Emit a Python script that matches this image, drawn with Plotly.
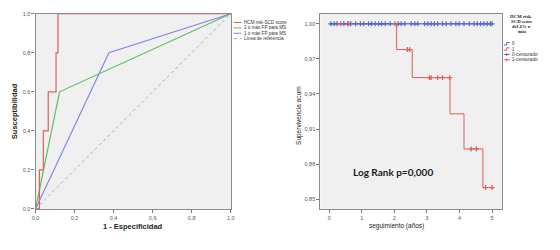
import plotly.graph_objects as go

# ---------------- ROC data ----------------
roc_names = ["HCM risk-SCD score", "2 ó más FP para MS", "1 ó más FP para MS", "Línea de referencia"]
roc_colors = ["#e25c5c", "#5cbf63", "#8585e6", "#aaaaaa"]
hcm_fpr = [0, 0.02, 0.02, 0.04, 0.04, 0.065, 0.065, 0.105, 0.105, 0.115, 0.115, 1.0]
hcm_tpr = [0, 0, 0.2, 0.2, 0.4, 0.4, 0.6, 0.6, 0.8, 0.8, 1.0, 1.0]
fp2_fpr = [0, 0.123, 1.0]
fp2_tpr = [0, 0.60, 1.0]
fp1_fpr = [0, 0.376, 1.0]
fp1_tpr = [0, 0.80, 1.0]
ref_x = [0, 1]
ref_y = [0, 1]
roc_ticks = [0, 0.2, 0.4, 0.6, 0.8, 1.0]

# ---------------- Kaplan-Meier data ----------------
g0_times = [0, 5.0]
g0_surv = [1.0, 1.0]
g1_times = [0, 2.07, 2.55, 3.71, 4.14, 4.72, 5.03]
g1_surv = [1.0, 0.978, 0.954, 0.923, 0.893, 0.860, 0.860]
g0_cens = [0.05, 0.15, 0.24, 0.45, 0.57, 0.66, 0.81, 0.96, 1.06, 1.21, 1.30, 1.41, 1.52,
           1.61, 1.72, 1.87, 2.12, 2.21, 2.32, 2.52, 2.63, 2.72, 2.93, 3.03, 3.13, 3.23,
           3.33, 3.48, 3.59, 3.74, 3.89, 3.99, 4.14, 4.30, 4.45, 4.55, 4.65, 4.75, 4.85,
           4.95, 5.0]
g1_cens = [0.35, 0.60, 2.02, 2.40, 2.47, 3.08, 3.13, 3.33, 3.48, 3.70, 4.36, 4.52, 4.80, 5.0]
km_yticks = [0.85, 0.88, 0.91, 0.94, 0.97, 1.00]
km_xticks = [0, 1, 2, 3, 4, 5]
km_blue = "#5468c8"
km_red = "#e05a5a"


def step_value(t, times, surv):
    v = surv[0]
    for ti, si in zip(times, surv):
        if ti <= t:
            v = si
    return v


g0_cens_y = [step_value(t, g0_times, g0_surv) for t in g0_cens]
g1_cens_y = [step_value(t, g1_times, g1_surv) for t in g1_cens]

W, H = 560, 250
def px(x):
    return x / W
def py(y):
    return 1 - y / H

fig = go.Figure()

# ROC traces
fig.add_trace(go.Scatter(x=ref_x, y=ref_y, mode="lines", line=dict(color=roc_colors[3], width=1, dash="3px,3px"),
                         xaxis="x", yaxis="y", showlegend=False))
fig.add_trace(go.Scatter(x=fp2_fpr, y=fp2_tpr, mode="lines", line=dict(color=roc_colors[1], width=1.2),
                         xaxis="x", yaxis="y", showlegend=False))
fig.add_trace(go.Scatter(x=fp1_fpr, y=fp1_tpr, mode="lines", line=dict(color=roc_colors[2], width=1.2),
                         xaxis="x", yaxis="y", showlegend=False))
fig.add_trace(go.Scatter(x=hcm_fpr, y=hcm_tpr, mode="lines", line=dict(color=roc_colors[0], width=1.2),
                         xaxis="x", yaxis="y", showlegend=False, cliponaxis=False))

# KM traces
fig.add_trace(go.Scatter(x=g1_times, y=g1_surv, mode="lines", line=dict(color=km_red, width=1, shape="hv"),
                         xaxis="x2", yaxis="y2", showlegend=False))
fig.add_trace(go.Scatter(x=g0_times, y=g0_surv, mode="lines", line=dict(color=km_blue, width=1, shape="hv"),
                         xaxis="x2", yaxis="y2", showlegend=False))
fig.add_trace(go.Scatter(x=g0_cens, y=g0_cens_y, mode="markers",
                         marker=dict(symbol="cross-thin", size=3.5, line=dict(color=km_blue, width=1.2)),
                         xaxis="x2", yaxis="y2", showlegend=False))
fig.add_trace(go.Scatter(x=g1_cens, y=g1_cens_y, mode="markers",
                         marker=dict(symbol="cross-thin", size=3.5, line=dict(color=km_red, width=1.2)),
                         xaxis="x2", yaxis="y2", showlegend=False))

tickfont = dict(family="Liberation Sans", size=5.5, color="#555555")
axis_common = dict(showgrid=False, zeroline=False, showline=True, linecolor="#8a8a8a", linewidth=1.2,
                   mirror=True, ticks="outside", ticklen=3, tickcolor="#777777", tickwidth=1,
                   tickfont=tickfont, fixedrange=True)

fig.update_layout(
    width=W, height=H, margin=dict(l=0, r=0, t=0, b=0),
    paper_bgcolor="white", plot_bgcolor="#f0f0f0",
    separators=",.",
    showlegend=False,
    xaxis=dict(domain=[px(32), px(230)], range=[0, 1], tickvals=roc_ticks, tickformat=".1f",
               anchor="y", **axis_common),
    yaxis=dict(domain=[py(211), py(11)], range=[0, 1], tickvals=roc_ticks, tickformat=".1f",
               anchor="x", **axis_common),
    xaxis2=dict(domain=[px(321), px(505)], range=[-0.27, 5.30], tickvals=km_xticks, tickformat="d",
                anchor="y2", **axis_common),
    yaxis2=dict(domain=[py(211), py(11)], range=[0.8417, 1.0086], tickvals=km_yticks, tickformat=".2f",
                anchor="x2", **axis_common),
)

ann = []
shapes = []


def label(x, y, text, size, family="Liberation Sans", xanchor="center", angle=0, color="#222222"):
    ann.append(dict(x=px(x), y=py(y), xref="paper", yref="paper", text=text, textangle=angle,
                    xanchor=xanchor, yanchor="middle", showarrow=False, borderpad=0,
                    font=dict(family=family, size=size, color=color)))


# Axis titles
label(131, 229, "<b>1 - Especificidad</b>", 7.5)
label(10, 111, "<b>Susceptibilidad</b>", 7.5, angle=-90)
label(398, 228, "seguimiento (años)", 6.5)
label(300, 115, "Supervivencia acum", 6.5, angle=-90)
label(395, 173, "<b>Log Rank p=0,000</b>", 10, family="Lato", color="#1a1a1a")

# ROC legend
leg_y = [20, 25.5, 31, 36.5]
for i, name in enumerate(roc_names):
    y = leg_y[i]
    shapes.append(dict(type="line", xref="paper", yref="paper", x0=px(233), x1=px(241), y0=py(y), y1=py(y),
                       line=dict(color=roc_colors[i], width=1, dash="dot" if i == 3 else "solid")))
    label(242, y, name, 4.6, xanchor="left", color="#333333")

# KM legend title
title_lines = ["HCM risk-", "SCD score", "del 4% o", "más"]
for i, t in enumerate(title_lines):
    label(525, 14 + i * 5.2, "<b>" + t + "</b>", 4.8, family="Liberation Serif")
km_leg = [("0", km_blue, False), ("1", km_red, False), ("0-censurado", km_blue, True), ("1-censurado", km_red, True)]
for i, (name, col, cens) in enumerate(km_leg):
    y = 42 + i * 5.4
    if cens:
        shapes.append(dict(type="line", xref="paper", yref="paper", x0=px(507), x1=px(513), y0=py(y), y1=py(y),
                           line=dict(color=col, width=1)))
        shapes.append(dict(type="line", xref="paper", yref="paper", x0=px(510), x1=px(510), y0=py(y - 1.5), y1=py(y + 1.5),
                           line=dict(color=col, width=1)))
    else:
        shapes.append(dict(type="path", xref="paper", yref="paper",
                           path=f"M {px(507)} {py(y + 1)} L {px(510)} {py(y + 1)} L {px(510)} {py(y - 1.5)} L {px(513)} {py(y - 1.5)}",
                           line=dict(color=col, width=1)))
    label(514, y, name, 4.6, xanchor="left", color="#333333")

fig.update_layout(annotations=ann, shapes=shapes)
fig.write_html("out.html", config={"displayModeBar": False},
               post_script="document.body.style.margin='0';document.body.style.overflow='hidden';")
